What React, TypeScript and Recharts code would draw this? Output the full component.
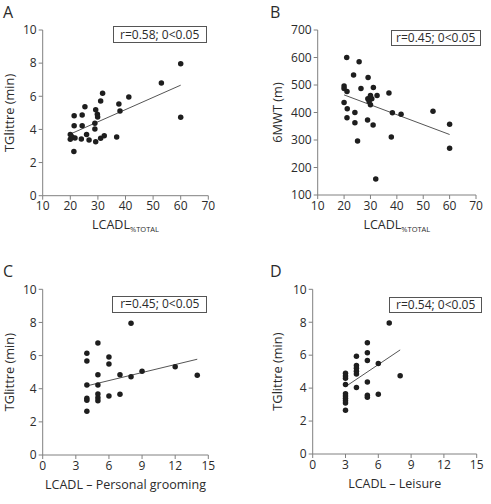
import React from "react";
import { ScatterChart, Scatter, XAxis, YAxis, ReferenceLine, Label } from "recharts";

// Panel A: LCADL %total vs TGlittre (min)
const lcadlTotalA = [31.7, 31, 37.6, 41.2, 25.3, 29.2, 21.4, 24.3, 29.8, 29.9, 38, 21.4, 24.3, 28.9, 28.9, 20, 20.6, 20, 21.7, 24, 25.9, 26.8, 29.2, 31, 32.3, 36.8, 21.3, 60, 53, 60];
const tglittreA = [6.18, 5.71, 5.53, 5.96, 5.37, 5.19, 4.83, 4.87, 4.91, 4.75, 5.11, 4.22, 4.22, 4.37, 4.02, 3.7, 3.56, 3.4, 3.48, 3.42, 3.7, 3.36, 3.26, 3.46, 3.62, 3.54, 2.66, 7.97, 6.8, 4.73];
const fitA = [{ x: 20, y: 3.72 }, { x: 60, y: 6.67 }];

// Panel B: LCADL %total vs 6MWT (m)
const lcadlTotalB = [21, 25.7, 23.6, 29.1, 20, 20, 21.1, 26.4, 31.1, 37, 29, 30, 30.5, 29.5, 30, 32.5, 20, 21.2, 24.1, 21.1, 24.1, 28.9, 31, 38.3, 41.6, 53.7, 60, 60, 25.1, 37.9, 32];
const sixMwtB = [600, 585, 536, 527, 496, 487, 476, 487, 491, 471, 450, 462, 450, 440, 428, 462, 436, 414, 400, 381, 363, 373, 355, 399, 394, 405, 357, 270, 296, 311, 158];
const fitB = [{ x: 20, y: 464 }, { x: 60, y: 320 }];

// Panel C: personal grooming vs TGlittre
const groomingC = [8, 5, 4, 4, 6, 6, 5, 7, 8, 9, 12, 14, 4, 5, 4, 4, 5, 5, 5, 6, 7, 4];
const tglittreC = [7.95, 6.76, 6.14, 5.67, 5.92, 5.49, 4.85, 4.85, 4.72, 5.05, 5.33, 4.81, 4.23, 4.23, 3.42, 3.3, 3.68, 3.46, 3.27, 3.56, 3.66, 2.64];
const fitC = [{ x: 4, y: 4.17 }, { x: 14, y: 5.78 }];

// Panel D: leisure vs TGlittre
const leisureD = [7, 5, 5, 5, 4, 6, 4, 4, 4, 4, 3, 3, 3, 3, 4, 5, 8, 3, 3, 3, 3, 3, 5, 5, 6, 3];
const tglittreD = [7.95, 6.76, 6.15, 5.67, 5.93, 5.5, 5.38, 5.2, 5.02, 4.86, 4.9, 4.74, 4.6, 4.22, 4.04, 4.37, 4.75, 3.66, 3.52, 3.38, 3.24, 3.1, 3.56, 3.45, 3.63, 2.66];
const fitD = [{ x: 3, y: 4.09 }, { x: 8, y: 6.32 }];

const ticksTotal = [10, 20, 30, 40, 50, 60, 70];
const ticksScore = [0, 3, 6, 9, 12, 15];
const ticksTime = [0, 2, 4, 6, 8, 10];
const ticksMeters = [100, 200, 300, 400, 500, 600, 700];

const FONT = "'Open Sans', 'DejaVu Sans', sans-serif";
const INK = "#2b2b2b";
const AXIS = "#808080";

const toPoints = (xs: number[], ys: number[]) => xs.map((x, i) => ({ x, y: ys[i] }));

const Dot = (p: any) => <circle cx={p.cx} cy={p.cy} r={2.75} fill="#1e1e1e" />;

type PanelProps = {
  left: number;
  top: number;
  width: number;
  height: number;
  plot: [number, number, number, number]; // x0, x1, y0, y1 inside the panel
  letter: string;
  letterPos: [number, number];
  data: { x: number; y: number }[];
  fit: { x: number; y: number }[];
  xDomain: [number, number];
  xTicks: number[];
  yDomain: [number, number];
  yTicks: number[];
  xTitle: string;
  xSub?: string;
  yTitle: string;
  yGap: number;
  note: string;
  noteBox: [number, number, number, number]; // left, top, width, height
};

function Panel(props: PanelProps) {
  const { left, top, width, height, plot, letter, letterPos, data, fit, xDomain, xTicks, yDomain, yTicks, xTitle, xSub, yTitle, yGap, note, noteBox } = props;
  const [x0, x1, y0, y1] = plot;
  const tick = { fill: INK, fontSize: 12, fontFamily: FONT };
  const midX = (x0 + x1) / 2;
  const midY = (y0 + y1) / 2;

  return (
    <div style={{ position: "absolute", left, top, width, height }}>
      <ScatterChart width={width} height={height} margin={{ top: y0, right: width - x1, bottom: 0, left: 0 }}>
        <XAxis
          type="number"
          dataKey="x"
          domain={xDomain}
          ticks={xTicks}
          interval={0}
          height={height - y1}
          stroke={AXIS}
          tickSize={4}
          tick={tick}
          allowDataOverflow
        >
          <Label
            content={() => (
              <text x={midX} y={y1 + 33.5} textAnchor="middle" fill={INK} fontSize={12.5} fontFamily={FONT}>
                {xTitle}
                {xSub && (
                  <tspan fontSize={7.5} dy={3}>
                    {xSub}
                  </tspan>
                )}
              </text>
            )}
          />
        </XAxis>
        <YAxis
          type="number"
          dataKey="y"
          domain={yDomain}
          ticks={yTicks}
          interval={0}
          width={x0}
          stroke={AXIS}
          tickSize={4}
          tick={tick}
          allowDataOverflow
        >
          <Label
            content={() => (
              <text
                x={x0 - yGap}
                y={midY}
                transform={`rotate(-90 ${x0 - yGap} ${midY})`}
                textAnchor="middle"
                dominantBaseline="central"
                fill={INK}
                fontSize={12.8}
                fontFamily={FONT}
              >
                {yTitle}
              </text>
            )}
          />
        </YAxis>
        <ReferenceLine segment={fit} stroke="#555" strokeWidth={1} />
        <Scatter data={data} shape={Dot} isAnimationActive={false} />
      </ScatterChart>
      <div
        style={{
          position: "absolute",
          left: letterPos[0],
          top: letterPos[1],
          fontFamily: FONT,
          fontSize: 16,
          color: INK,
          lineHeight: "18px",
        }}
      >
        {letter}
      </div>
      <div
        style={{
          position: "absolute",
          left: noteBox[0],
          top: noteBox[1],
          width: noteBox[2],
          height: noteBox[3],
          boxSizing: "border-box",
          border: "1px solid #555",
          background: "#fff",
          fontFamily: FONT,
          fontSize: 12,
          color: INK,
          textAlign: "center",
          lineHeight: `${noteBox[3] - 2}px`,
          whiteSpace: "nowrap",
        }}
      >
        {note}
      </div>
    </div>
  );
}

export default function App() {
  return (
    <div style={{ position: "absolute", left: 0, top: 0, width: 491, height: 504, background: "#fff" }}>
      <Panel
        left={0}
        top={0}
        width={245}
        height={245}
        plot={[42.7, 208.3, 30, 195.7]}
        letter="A"
        letterPos={[3, 3]}
        data={toPoints(lcadlTotalA, tglittreA)}
        fit={fitA}
        xDomain={[10, 70]}
        xTicks={ticksTotal}
        yDomain={[0, 10]}
        yTicks={ticksTime}
        xTitle="LCADL"
        xSub="%TOTAL"
        yTitle="TGlittre (min)"
        yGap={34}
        note="r=0.58; 0<0.05"
        noteBox={[112.7, 25.7, 94, 17]}
      />
      <Panel
        left={245}
        top={0}
        width={246}
        height={245}
        plot={[72.7, 231, 30, 195]}
        letter="B"
        letterPos={[25, 3]}
        data={toPoints(lcadlTotalB, sixMwtB)}
        fit={fitB}
        xDomain={[10, 70]}
        xTicks={ticksTotal}
        yDomain={[100, 700]}
        yTicks={ticksMeters}
        xTitle="LCADL"
        xSub="%TOTAL"
        yTitle="6MWT (m)"
        yGap={41}
        note="r=0.45; 0<0.05"
        noteBox={[145.7, 29.5, 90, 16]}
      />
      <Panel
        left={0}
        top={250}
        width={245}
        height={254}
        plot={[42.7, 208.3, 39.3, 205]}
        letter="C"
        letterPos={[3, 12]}
        data={toPoints(groomingC, tglittreC)}
        fit={fitC}
        xDomain={[0, 15]}
        xTicks={ticksScore}
        yDomain={[0, 10]}
        yTicks={ticksTime}
        xTitle="LCADL – Personal grooming"
        yTitle="TGlittre (min)"
        yGap={34}
        note="r=0.45; 0<0.05"
        noteBox={[112.3, 46, 95, 16.5]}
      />
      <Panel
        left={245}
        top={250}
        width={246}
        height={254}
        plot={[67.7, 231.7, 39.3, 204]}
        letter="D"
        letterPos={[25, 12]}
        data={toPoints(leisureD, tglittreD)}
        fit={fitD}
        xDomain={[0, 15]}
        xTicks={ticksScore}
        yDomain={[0, 10]}
        yTicks={ticksTime}
        xTitle="LCADL – Leisure"
        yTitle="TGlittre (min)"
        yGap={36}
        note="r=0.54; 0<0.05"
        noteBox={[144, 46.5, 93.3, 16]}
      />
    </div>
  );
}
